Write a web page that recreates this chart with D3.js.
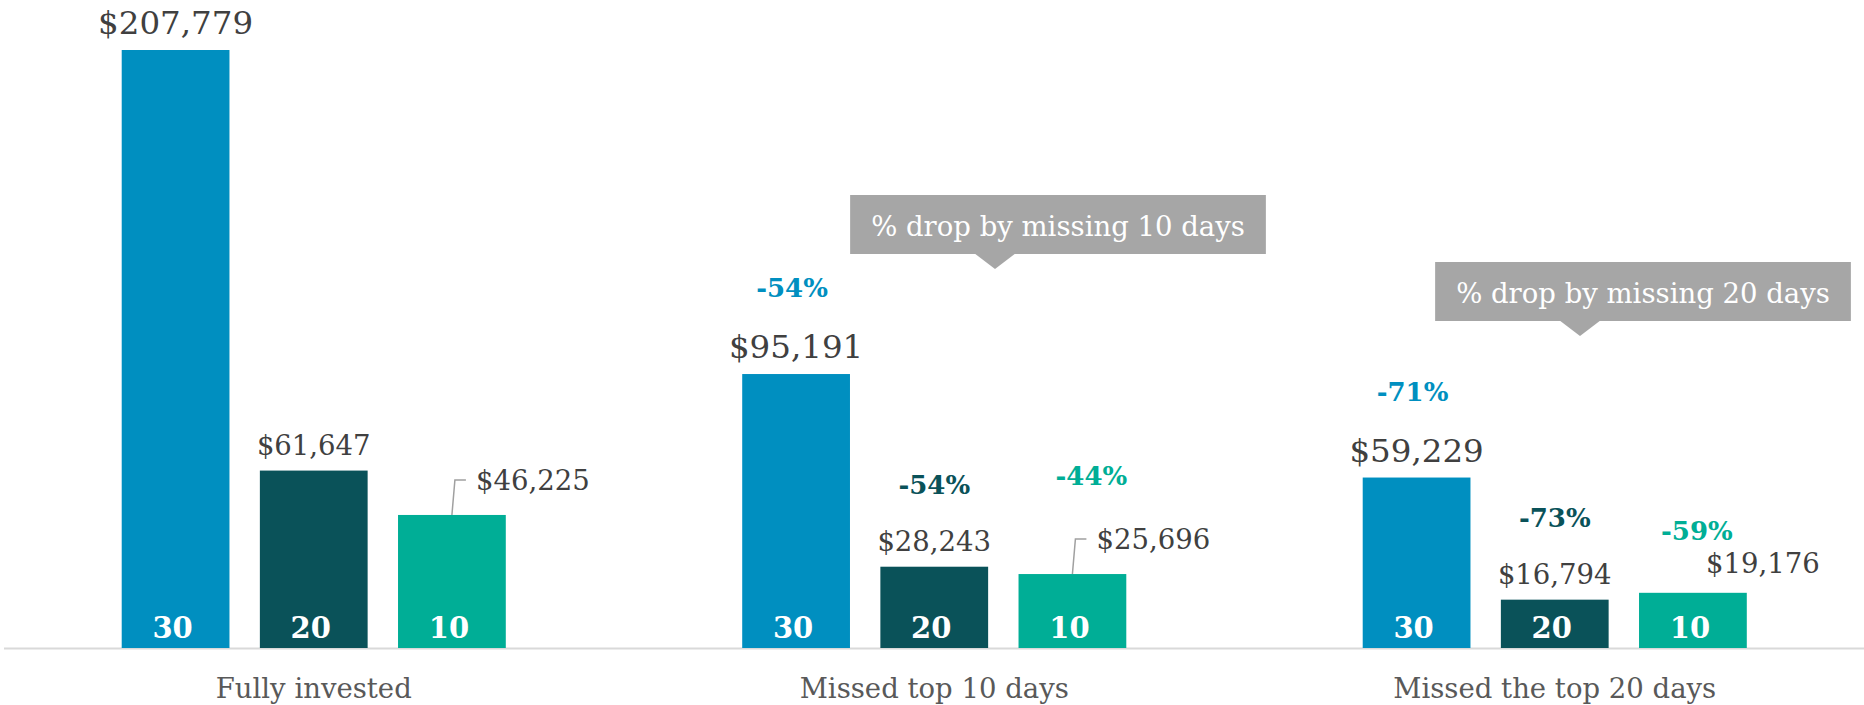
<!DOCTYPE html>
<html lang="en">
<head>
<meta charset="UTF-8">
<title>Missing the best days</title>
<script src="https://d3js.org/d3.v7.min.js"></script>
<style>
  body { margin: 0; background: #fff; }
  svg { display: block; font-family: Georgia, "DejaVu Serif", serif; }
  .value { fill: #404040; }
  .cat text { fill: #595959; }
</style>
</head>
<body>
<svg width="1864" height="705"></svg>
<script>
// data
const categories = ["Fully invested", "Missed top 10 days", "Missed the top 20 days"];
const series = ["30", "20", "10"];
const values30 = [207779, 95191, 59229];
const values20 = [61647, 28243, 16794];
const values10 = [46225, 25696, 19176];
const drop30 = ["", "-54%", "-71%"];
const drop20 = ["", "-54%", "-73%"];
const drop10 = ["", "-44%", "-59%"];
const leader10 = [true, true, false];
const callouts = ["% drop by missing 10 days", "% drop by missing 20 days"];
const colors = ["#008fc0", "#0a5259", "#00ae96"];

const width = 1864, height = 705, base = 648;
const svg = d3.select("svg");

const values = [values30, values20, values10];
const drops = [drop30, drop20, drop10];
const rows = [];
categories.forEach((c, i) => {
  series.forEach((s, j) => {
    rows.push({ cat: c, i: i, s: s, j: j, v: values[j][i], drop: drops[j][i] });
  });
});

const x0 = d3.scaleBand().domain(categories).range([3.5, 1865])
  .paddingInner(0.381).paddingOuter(0.1905);
const x1 = d3.scaleBand().domain(series).range([0, x0.bandwidth()]).paddingInner(0.22);
const y = d3.scaleLinear().domain([0, d3.max(values30)]).range([base, 50]);
const color = d3.scaleOrdinal().domain(series).range(colors);

const cx = d => x0(d.cat) + x1(d.s) + x1.bandwidth() / 2;

// axis with category names
const axis = svg.append("g").attr("class", "cat")
  .attr("transform", `translate(0,${base})`)
  .call(d3.axisBottom(x0).tickSize(0).tickSizeOuter(0));
axis.select(".domain").attr("stroke", "#d9d9d9").attr("stroke-width", 2);
axis.selectAll("text").attr("y", 50).attr("dy", 0)
  .style("font-family", "Georgia, 'DejaVu Serif', serif")
  .style("font-size", "27.5px");

// bars
svg.selectAll("rect.bar").data(rows).join("rect")
  .attr("class", "bar")
  .attr("x", d => x0(d.cat) + x1(d.s))
  .attr("y", d => y(d.v))
  .attr("width", x1.bandwidth())
  .attr("height", d => base - y(d.v))
  .attr("fill", d => color(d.s));

// series number inside the bar
svg.selectAll("text.inbar").data(rows).join("text")
  .attr("class", "inbar")
  .attr("x", d => cx(d) - 3)
  .attr("y", 638)
  .attr("text-anchor", "middle")
  .attr("fill", "#fff")
  .style("font-weight", "bold")
  .style("font-size", "29px")
  .text(d => d.s);

const fmt = d3.format("$,");

// leader lines for shifted labels
svg.selectAll("path.leader").data(rows.filter(d => d.s === "10" && leader10[d.i])).join("path")
  .attr("class", "leader")
  .attr("fill", "none")
  .attr("stroke", "#a0a0a0")
  .attr("stroke-width", 1.5)
  .attr("d", d => {
    const x = cx(d), t = y(d.v);
    return `M${x},${t}L${x + 3},${t - 35}L${x + 14},${t - 35}`;
  });

// value labels
svg.selectAll("text.value").data(rows).join("text")
  .attr("class", "value")
  .attr("x", d => {
    if (d.s !== "10") return cx(d);
    return leader10[d.i] ? cx(d) + 24 : cx(d) + 70;
  })
  .attr("y", d => {
    if (d.s !== "10") return y(d.v) - 16;
    return leader10[d.i] ? y(d.v) - 25 : y(d.v) - 20;
  })
  .attr("text-anchor", d => (d.s === "10" && leader10[d.i]) ? "start" : "middle")
  .style("font-size", d => d.s === "30" ? "32.5px" : "27.5px")
  .text(d => fmt(d.v));

// percentage drop labels
svg.selectAll("text.drop").data(rows.filter(d => d.drop)).join("text")
  .attr("class", "drop")
  .attr("x", d => {
    if (d.s === "30") return cx(d) - 4;
    if (d.s === "20") return cx(d);
    return leader10[d.i] ? cx(d) + 19 : cx(d) + 4;
  })
  .attr("y", d => {
    if (d.s === "30") return y(d.v) - 77;
    if (d.s === "20") return y(d.v) - 73;
    return leader10[d.i] ? y(d.v) - 89 : y(d.v) - 53;
  })
  .attr("text-anchor", "middle")
  .attr("fill", d => color(d.s))
  .style("font-weight", "bold")
  .style("font-size", "26px")
  .text(d => d.drop);

// callout boxes
const calloutX = [1058, 1643], calloutTop = [195, 262], boxH = 59;
callouts.forEach((txt, k) => {
  const g = svg.append("g");
  const rect = g.append("rect").attr("fill", "#a6a6a6");
  const label = g.append("text")
    .attr("x", calloutX[k])
    .attr("y", calloutTop[k] + 41)
    .attr("text-anchor", "middle")
    .attr("fill", "#fff")
    .style("font-size", "27.5px")
    .text(txt);
  const w = label.node().getComputedTextLength() + 42;
  rect.attr("x", calloutX[k] - w / 2).attr("y", calloutTop[k])
    .attr("width", w).attr("height", boxH);
  const ax = calloutX[k] - 63, by = calloutTop[k] + boxH;
  g.append("path").attr("fill", "#a6a6a6")
    .attr("d", `M${ax - 21},${by - 1}L${ax + 21},${by - 1}L${ax},${by + 15}Z`);
});
</script>
</body>
</html>
